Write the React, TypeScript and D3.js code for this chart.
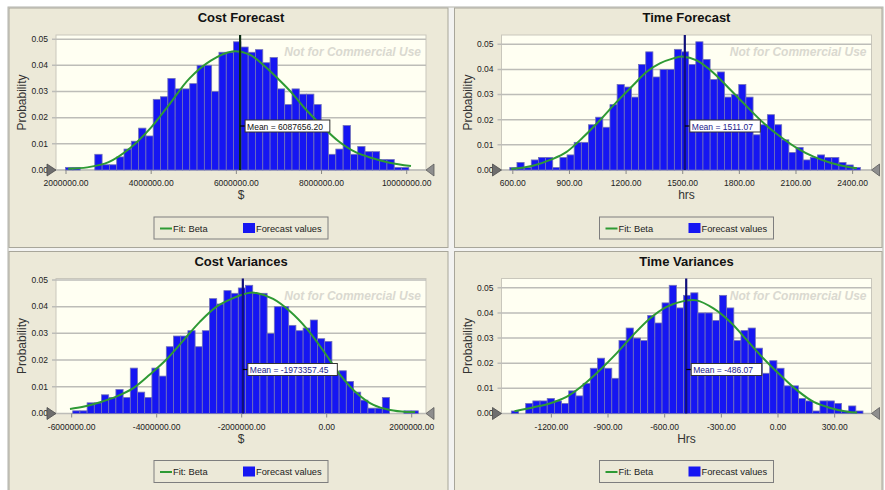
import React from 'react';
import * as d3 from 'd3';

// ---- Cost Forecast ($) ----
const costForecastProb = [
  0.001, 0.001, 0, 0, 0.006, 0.002, 0.002, 0.005, 0.008, 0.011, 0.016, 0.013,
  0.027, 0.028, 0.035, 0.031, 0.031, 0.033, 0.040, 0.040, 0.030, 0.045, 0.045,
  0.049, 0.047, 0.045, 0.046, 0.041, 0.043, 0.031, 0.025, 0.031, 0.029, 0.029,
  0.025, 0.015, 0.006, 0.008, 0.017, 0.006, 0.009, 0.007, 0.007, 0.004, 0.004,
  0.001, 0.001,
];
const costForecastBinStart = 1990000;
const costForecastBinWidth = 171500;
const costForecastFitX = [
  2.05e6, 2.5e6, 3.0e6, 3.5e6, 4.0e6, 4.4e6, 4.9e6, 5.4e6, 5.9e6, 6.3e6, 6.7e6,
  7.0e6, 7.3e6, 7.6e6, 8.0e6, 8.4e6, 8.8e6, 9.2e6, 9.6e6, 10.1e6,
];
const costForecastFitY = [
  0.0005, 0.0010, 0.0030, 0.0083, 0.0163, 0.0245, 0.0350, 0.0418, 0.0453, 0.0442,
  0.0392, 0.0345, 0.0295, 0.0237, 0.0170, 0.0110, 0.0068, 0.0045, 0.0028, 0.0015,
];
const costForecastTicks = [2000000, 4000000, 6000000, 8000000, 10000000];
const costForecastMean = 6087656.2;

// ---- Time Forecast (hrs) ----
const timeForecastProb = [
  0.001, 0.003, 0.001, 0.004, 0.005, 0.005, 0.001, 0.005, 0.006, 0.011, 0.011,
  0.018, 0.021, 0.017, 0.026, 0.034, 0.033, 0.029, 0.042, 0.047, 0.037, 0.040,
  0.040, 0.048, 0.047, 0.042, 0.051, 0.044, 0.036, 0.039, 0.029, 0.030, 0.034,
  0.029, 0.014, 0.018, 0.022, 0.018, 0.012, 0.007, 0.009, 0.004, 0.005, 0.006,
  0.005, 0.005, 0.003, 0.002, 0.001,
];
const timeForecastBinStart = 584;
const timeForecastBinWidth = 37.9;
const timeForecastFitX = [
  591, 706, 812, 883, 972, 1060, 1149, 1237, 1308, 1379, 1450, 1500, 1574, 1662,
  1751, 1839, 1928, 2016, 2105, 2193, 2282, 2370, 2423,
];
const timeForecastFitY = [
  0.0004, 0.0017, 0.0044, 0.0071, 0.0130, 0.0197, 0.0270, 0.0337, 0.0390, 0.0424,
  0.0444, 0.0451, 0.0436, 0.0387, 0.0320, 0.0253, 0.0187, 0.0133, 0.0087, 0.0053,
  0.0029, 0.0013, 0.0007,
];
const timeForecastTicks = [600, 900, 1200, 1500, 1800, 2100, 2400];
const timeForecastMean = 1511.07;

// ---- Cost Variances ($) ----
const costVarianceProb = [
  0.001, 0.001, 0.004, 0.004, 0.007, 0.006, 0.009, 0.006, 0.017, 0.008, 0.006,
  0.017, 0.014, 0.025, 0.029, 0.029, 0.031, 0.025, 0.031, 0.043, 0.041, 0.046,
  0.045, 0.047, 0.048, 0.045, 0.045, 0.030, 0.040, 0.040, 0.033, 0.031, 0.032,
  0.035, 0.028, 0.027, 0.015, 0.016, 0.012, 0.008, 0.005, 0.002, 0.002, 0.006,
  0, 0, 0.001, 0.001,
];
const costVarianceBinStart = -5976000;
const costVarianceBinWidth = 169400;
const costVarianceFitX = [
  -6.04e6, -5.73e6, -5.33e6, -4.94e6, -4.55e6, -4.16e6, -3.76e6, -3.37e6, -2.98e6,
  -2.59e6, -2.2e6, -1.81e6, -1.65e6, -1.26e6, -0.86e6, -0.47e6, -0.08e6, 0.31e6,
  0.71e6, 1.1e6, 1.49e6, 1.88e6, 2.08e6,
];
const costVarianceFitY = [
  0.0017, 0.0025, 0.0042, 0.0064, 0.0095, 0.0146, 0.0204, 0.0274, 0.0344, 0.0400,
  0.0432, 0.0452, 0.0451, 0.0429, 0.0382, 0.0318, 0.0235, 0.0146, 0.0076, 0.0032,
  0.0013, 0.0006, 0.0006,
];
const costVarianceTicks = [-6000000, -4000000, -2000000, 0, 2000000];
const costVarianceMean = -1973357.45;

// ---- Time Variances (Hrs) ----
const timeVarianceProb = [
  0.001, 0, 0.004, 0.005, 0.005, 0.006, 0.005, 0.004, 0.009, 0.007, 0.012, 0.018,
  0.022, 0.018, 0.014, 0.029, 0.034, 0.030, 0.029, 0.039, 0.036, 0.044, 0.051,
  0.042, 0.047, 0.048, 0.040, 0.040, 0.037, 0.047, 0.042, 0.029, 0.033, 0.034,
  0.026, 0.016, 0.021, 0.018, 0.011, 0.011, 0.006, 0.005, 0.001, 0.005, 0.005,
  0.004, 0.001, 0.003, 0.001,
];
const timeVarianceBinStart = -1412;
const timeVarianceBinWidth = 38.0;
const timeVarianceFitX = [
  -1395, -1298, -1209, -1120, -1032, -944, -855, -767, -678, -590, -501, -430,
  -342, -254, -165, -77, 12, 100, 189, 277, 366, 419,
];
const timeVarianceFitY = [
  0.0009, 0.0024, 0.0040, 0.0066, 0.0113, 0.0172, 0.0239, 0.0312, 0.0378, 0.0424,
  0.0447, 0.0450, 0.0418, 0.0365, 0.0292, 0.0219, 0.0153, 0.0093, 0.0046, 0.0022,
  0.0007, 0.0004,
];
const timeVarianceTicks = [-1200, -900, -600, -300, 0, 300];
const timeVarianceMean = -486.07;

const probabilityTicks = [0, 0.01, 0.02, 0.03, 0.04, 0.05];

const locale = d3.formatLocale({
  decimal: '.',
  thousands: ',',
  grouping: [3],
  currency: ['$', ''],
  minus: '-',
});
const fmt2 = locale.format('.2f');

const FONT = '"Liberation Sans", Arial, sans-serif';
const PANEL_BG = '#ECE9D8';
const PLOT_BG = '#FFFFF2';
const BAR_FILL = '#1616F2';
const BAR_STROKE = '#7272B8';
const FIT_GREEN = '#2E9A34';

type PanelSpec = {
  title: string;
  xTitle: string;
  probs: number[];
  binStart: number;
  binWidth: number;
  fitX: number[];
  fitY: number[];
  ticks: number[];
  xDomain: [number, number];
  mean: number;
  meanLine: string;
  meanText: string;
};

function Panel({ spec, x, y, w, h }: { spec: PanelSpec; x: number; y: number; w: number; h: number }) {
  const pl = 47;
  const pr = 417;
  const pt = 27;
  const pb = 162;
  const xs = d3.scaleLinear().domain(spec.xDomain).range([pl, pr]);
  const yMax = (d3.max(spec.probs) as number) * 1.053;
  const ys = d3.scaleLinear().domain([0, yMax]).range([pb, pt]);
  const midX = (pl + pr) / 2;

  const fitPts: [number, number][] = spec.fitX.map((v, i) => [v, spec.fitY[i]]);
  const fitPath = d3
    .line<[number, number]>()
    .x((d) => xs(d[0]))
    .y((d) => ys(d[1]))
    .curve(d3.curveCatmullRom.alpha(0.5))(fitPts) as string;

  const mx = xs(spec.mean);
  const labelTop = pt + 85;
  const meanLabel = `Mean = ${fmt2(spec.mean)}`;
  const legendX = 145;
  const legendY = 209;

  return (
    <g transform={`translate(${x},${y})`}>
      <rect x={0} y={0} width={w} height={h} fill={PANEL_BG} stroke="#A8A69A" />
      <text x={midX} y={14} textAnchor="middle" fontFamily={FONT} fontWeight="bold" fontSize={13} fill="#111">
        {spec.title}
      </text>

      {/* plot area */}
      <rect x={pl} y={pt} width={pr - pl} height={pb - pt} fill={PLOT_BG} stroke="#C9C7BC" />
      <text
        x={pr - 5}
        y={pt + 21}
        textAnchor="end"
        fontFamily={FONT}
        fontWeight="bold"
        fontStyle="italic"
        fontSize={12}
        fill="#DAD9D0"
      >
        Not for Commercial Use
      </text>

      {probabilityTicks.map((t) => (
        <g key={t}>
          <line x1={pl - 4} x2={pr} y1={ys(t)} y2={ys(t)} stroke="#BDBDB8" strokeWidth={1.5} />
          <text x={pl - 8} y={ys(t)} dy="0.33em" textAnchor="end" fontFamily={FONT} fontSize={8.5} fill="#222">
            {fmt2(t)}
          </text>
        </g>
      ))}

      {/* histogram */}
      {spec.probs.map((p, i) => {
        if (p <= 0) return null;
        const x0 = xs(spec.binStart + i * spec.binWidth);
        const x1 = xs(spec.binStart + (i + 1) * spec.binWidth);
        return (
          <rect
            key={i}
            x={x0}
            y={ys(p)}
            width={x1 - x0}
            height={ys(0) - ys(p)}
            fill={BAR_FILL}
            stroke={BAR_STROKE}
            strokeWidth={0.8}
          />
        );
      })}

      {/* fitted distribution */}
      <path d={fitPath} fill="none" stroke={FIT_GREEN} strokeWidth={2} />

      {/* mean marker */}
      <line x1={mx} x2={mx} y1={pt} y2={pb} stroke={spec.meanLine} strokeWidth={2.2} />
      <line x1={mx} x2={mx + 5} y1={labelTop + 6} y2={labelTop + 6} stroke="#000" strokeWidth={1.2} />
      <rect
        x={mx + 5}
        y={labelTop}
        width={meanLabel.length * 4.75 + 4}
        height={12}
        fill="#FFFFFF"
        stroke="#333"
        strokeWidth={1}
      />
      <text x={mx + 7} y={labelTop + 9.5} fontFamily={FONT} fontSize={8.5} fill={spec.meanText}>
        {meanLabel}
      </text>

      {/* x axis */}
      {spec.ticks.map((t) => (
        <g key={t}>
          <line x1={xs(t)} x2={xs(t)} y1={pb} y2={pb + 4} stroke="#888" />
          <text x={xs(t)} y={pb + 16} textAnchor="middle" fontFamily={FONT} fontSize={8.5} fill="#222">
            {fmt2(t)}
          </text>
        </g>
      ))}
      <text x={midX} y={pb + 29} textAnchor="middle" fontFamily={FONT} fontSize={12} fill="#333">
        {spec.xTitle}
      </text>

      {/* range grabbers */}
      <polygon
        points={`${pl - 9},${pb - 6} ${pl},${pb} ${pl - 9},${pb + 6}`}
        fill="#6E6E6E"
        stroke="#4A4A4A"
        strokeWidth={0.8}
      />
      <polygon
        points={`${pr + 8},${pb - 6} ${pr},${pb} ${pr + 8},${pb + 6}`}
        fill="#8E8E8E"
        stroke="#5A5A5A"
        strokeWidth={0.8}
      />

      <text
        transform={`translate(17,${(pt + pb) / 2}) rotate(-90)`}
        textAnchor="middle"
        fontFamily={FONT}
        fontSize={12}
        fill="#333"
      >
        Probability
      </text>

      {/* legend */}
      <rect x={legendX} y={legendY} width={174} height={22} fill={PANEL_BG} stroke="#7E7E7E" />
      <line x1={legendX + 6} x2={legendX + 18} y1={legendY + 11.5} y2={legendY + 11.5} stroke={FIT_GREEN} strokeWidth={2} />
      <text x={legendX + 19} y={legendY + 14.5} fontFamily={FONT} fontSize={9.3} fill="#222">
        Fit: Beta
      </text>
      <rect x={legendX + 89} y={legendY + 6} width={12} height={10} fill={BAR_FILL} />
      <text x={legendX + 102} y={legendY + 14.5} fontFamily={FONT} fontSize={9.3} fill="#222">
        Forecast values
      </text>
    </g>
  );
}

const panels: { spec: PanelSpec; x: number; y: number; w: number; h: number }[] = [
  {
    spec: {
      title: 'Cost Forecast',
      xTitle: '$',
      probs: costForecastProb,
      binStart: costForecastBinStart,
      binWidth: costForecastBinWidth,
      fitX: costForecastFitX,
      fitY: costForecastFitY,
      ticks: costForecastTicks,
      xDomain: [1765000, 10453000],
      mean: costForecastMean,
      meanLine: '#0C2E14',
      meanText: '#111',
    },
    x: 9,
    y: 8,
    w: 439,
    h: 239.5,
  },
  {
    spec: {
      title: 'Time Forecast',
      xTitle: 'hrs',
      probs: timeForecastProb,
      binStart: timeForecastBinStart,
      binWidth: timeForecastBinWidth,
      fitX: timeForecastFitX,
      fitY: timeForecastFitY,
      ticks: timeForecastTicks,
      xDomain: [540, 2500],
      mean: timeForecastMean,
      meanLine: '#10107A',
      meanText: '#1A1A8C',
    },
    x: 454.5,
    y: 8,
    w: 427.5,
    h: 239.5,
  },
  {
    spec: {
      title: 'Cost Variances',
      xTitle: '$',
      probs: costVarianceProb,
      binStart: costVarianceBinStart,
      binWidth: costVarianceBinWidth,
      fitX: costVarianceFitX,
      fitY: costVarianceFitY,
      ticks: costVarianceTicks,
      xDomain: [-6369000, 2336000],
      mean: costVarianceMean,
      meanLine: '#10107A',
      meanText: '#1A1A8C',
    },
    x: 9,
    y: 251.5,
    w: 439,
    h: 239,
  },
  {
    spec: {
      title: 'Time Variances',
      xTitle: 'Hrs',
      probs: timeVarianceProb,
      binStart: timeVarianceBinStart,
      binWidth: timeVarianceBinWidth,
      fitX: timeVarianceFitX,
      fitY: timeVarianceFitY,
      ticks: timeVarianceTicks,
      xDomain: [-1464, 495],
      mean: timeVarianceMean,
      meanLine: '#10107A',
      meanText: '#1A1A8C',
    },
    x: 454.5,
    y: 251.5,
    w: 427.5,
    h: 239,
  },
];

export default function App() {
  return (
    <svg
      width={885}
      height={490}
      viewBox="0 0 885 490"
      style={{ position: 'absolute', left: 0, top: 0, background: '#FFFFFF' }}
    >
      <rect x={8} y={7} width={875} height={484} fill="#F3F3F1" stroke="#B4B4AC" />
      {panels.map((p, i) => (
        <Panel key={i} spec={p.spec} x={p.x} y={p.y} w={p.w} h={p.h} />
      ))}
    </svg>
  );
}
